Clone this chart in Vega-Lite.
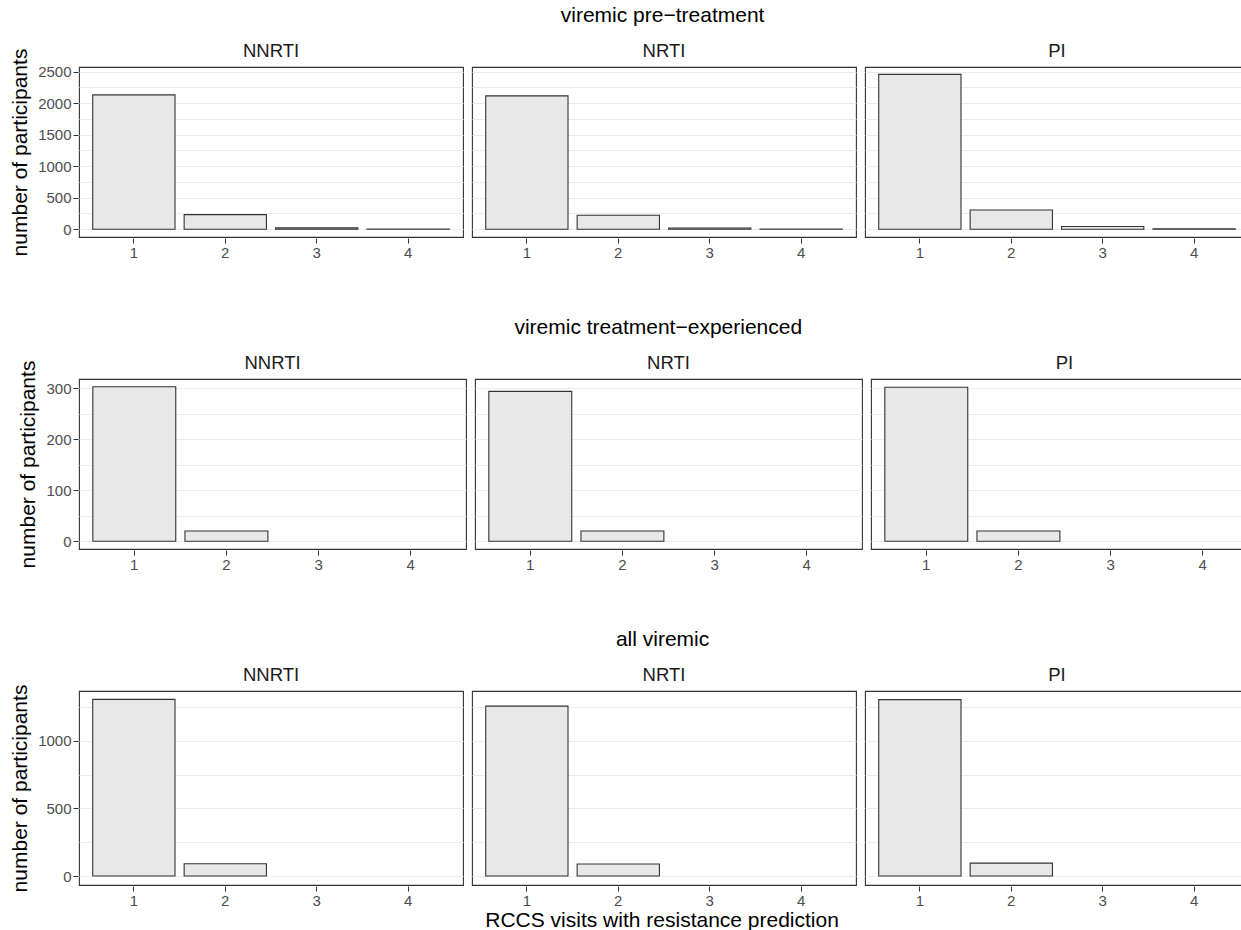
{
  "$schema": "https://vega.github.io/schema/vega-lite/v6.json",
  "background": "white",
  "padding": {"left": 9, "top": 4, "right": 0, "bottom": 2},
  "data": {
    "values": [
      {"group": "pre", "drug": "NNRTI", "visits": 1, "n": 2132},
      {"group": "pre", "drug": "NNRTI", "visits": 2, "n": 232},
      {"group": "pre", "drug": "NNRTI", "visits": 3, "n": 22},
      {"group": "pre", "drug": "NNRTI", "visits": 4, "n": 4},
      {"group": "pre", "drug": "NRTI", "visits": 1, "n": 2117},
      {"group": "pre", "drug": "NRTI", "visits": 2, "n": 221},
      {"group": "pre", "drug": "NRTI", "visits": 3, "n": 20},
      {"group": "pre", "drug": "NRTI", "visits": 4, "n": 4},
      {"group": "pre", "drug": "PI", "visits": 1, "n": 2458},
      {"group": "pre", "drug": "PI", "visits": 2, "n": 305},
      {"group": "pre", "drug": "PI", "visits": 3, "n": 43},
      {"group": "pre", "drug": "PI", "visits": 4, "n": 6},
      {"group": "exp", "drug": "NNRTI", "visits": 1, "n": 303},
      {"group": "exp", "drug": "NNRTI", "visits": 2, "n": 20},
      {"group": "exp", "drug": "NRTI", "visits": 1, "n": 294},
      {"group": "exp", "drug": "NRTI", "visits": 2, "n": 20},
      {"group": "exp", "drug": "PI", "visits": 1, "n": 302},
      {"group": "exp", "drug": "PI", "visits": 2, "n": 20},
      {"group": "all", "drug": "NNRTI", "visits": 1, "n": 1306},
      {"group": "all", "drug": "NNRTI", "visits": 2, "n": 91},
      {"group": "all", "drug": "NRTI", "visits": 1, "n": 1256},
      {"group": "all", "drug": "NRTI", "visits": 2, "n": 89},
      {"group": "all", "drug": "PI", "visits": 1, "n": 1304},
      {"group": "all", "drug": "PI", "visits": 2, "n": 96}
    ]
  },
  "columns": 1,
  "align": "none",
  "spacing": 56,
  "title": {
    "text": "RCCS visits with resistance prediction",
    "orient": "bottom",
    "offset": 2,
    "dx": 28
  },
  "concat": [
    {
      "transform": [{"filter": "datum.group === 'pre'"}],
      "title": {"text": "viremic pre−treatment", "dx": 33},
      "facet": {
        "column": {"field": "drug", "type": "nominal", "sort": ["NNRTI", "NRTI", "PI"], "header": {"title": null}}
      },
      "spacing": 7,
      "spec": {
        "width": 384,
        "height": 170,
        "mark": {"type": "bar", "fill": "#e8e8e8", "stroke": "#333333", "strokeWidth": 1.1},
        "encoding": {
          "x": {
            "field": "visits", "type": "ordinal",
            "scale": {"domain": [1, 2, 3, 4], "paddingInner": 0.1, "paddingOuter": 0.15},
            "axis": {"title": null, "labelAngle": 0}
          },
          "y": {
            "field": "n", "type": "quantitative",
            "scale": {"domain": [-123, 2575], "nice": false},
            "axis": {
              "title": "number of participants",
              "format": "d",
              "values": [0, 250, 500, 750, 1000, 1250, 1500, 1750, 2000, 2250, 2500],
              "labelExpr": "datum.value % 500 === 0 ? datum.label : ''",
              "tickOpacity": {"condition": {"test": "datum.value % 500 !== 0", "value": 0}, "value": 1}
            }
          }
        }
      }
    },
    {
      "transform": [{"filter": "datum.group === 'exp'"}],
      "title": {"text": "viremic treatment−experienced", "dx": 20},
      "facet": {
        "column": {"field": "drug", "type": "nominal", "sort": ["NNRTI", "NRTI", "PI"], "header": {"title": null}}
      },
      "spacing": 7,
      "spec": {
        "width": 387,
        "height": 170,
        "mark": {"type": "bar", "fill": "#e8e8e8", "stroke": "#333333", "strokeWidth": 1.1},
        "encoding": {
          "x": {
            "field": "visits", "type": "ordinal",
            "scale": {"domain": [1, 2, 3, 4], "paddingInner": 0.1, "paddingOuter": 0.15},
            "axis": {"title": null, "labelAngle": 0}
          },
          "y": {
            "field": "n", "type": "quantitative",
            "scale": {"domain": [-15.2, 318.2], "nice": false},
            "axis": {
              "title": "number of participants",
              "format": "d",
              "values": [0, 50, 100, 150, 200, 250, 300],
              "labelExpr": "datum.value % 100 === 0 ? datum.label : ''",
              "tickOpacity": {"condition": {"test": "datum.value % 100 !== 0", "value": 0}, "value": 1}
            }
          }
        }
      }
    },
    {
      "transform": [{"filter": "datum.group === 'all'"}],
      "title": {"text": "all viremic", "dx": 33},
      "facet": {
        "column": {"field": "drug", "type": "nominal", "sort": ["NNRTI", "NRTI", "PI"], "header": {"title": null}}
      },
      "spacing": 7,
      "spec": {
        "width": 384,
        "height": 194,
        "mark": {"type": "bar", "fill": "#e8e8e8", "stroke": "#333333", "strokeWidth": 1.1},
        "encoding": {
          "x": {
            "field": "visits", "type": "ordinal",
            "scale": {"domain": [1, 2, 3, 4], "paddingInner": 0.1, "paddingOuter": 0.15},
            "axis": {"title": null, "labelAngle": 0}
          },
          "y": {
            "field": "n", "type": "quantitative",
            "scale": {"domain": [-66, 1368], "nice": false},
            "axis": {
              "title": "number of participants",
              "format": "d",
              "values": [0, 250, 500, 750, 1000, 1250],
              "labelExpr": "datum.value % 500 === 0 ? datum.label : ''",
              "tickOpacity": {"condition": {"test": "datum.value % 500 !== 0", "value": 0}, "value": 1}
            }
          }
        }
      }
    }
  ],
  "config": {
    "font": "Liberation Sans",
    "view": {"stroke": "#333333", "strokeWidth": 1.1, "fill": "white"},
    "axis": {
      "labelFont": "Liberation Sans",
      "labelFontSize": 15,
      "labelColor": "#4d4d4d",
      "tickColor": "#333333",
      "tickSize": 5,
      "labelPadding": 2,
      "domain": false,
      "titleFont": "Liberation Sans",
      "titleFontSize": 21,
      "titleFontWeight": "normal",
      "titleColor": "#000000",
      "titlePadding": 7,
      "gridColor": "#ebebeb",
      "gridWidth": 1
    },
    "axisX": {"grid": false},
    "axisY": {"grid": true},
    "header": {
      "labelFont": "Liberation Sans",
      "labelFontSize": 18.5,
      "labelColor": "#1a1a1a",
      "labelPadding": 6
    },
    "title": {
      "font": "Liberation Sans",
      "fontSize": 21,
      "fontWeight": "normal",
      "color": "#000000",
      "anchor": "middle",
      "frame": "bounds",
      "offset": 16
    }
  }
}
